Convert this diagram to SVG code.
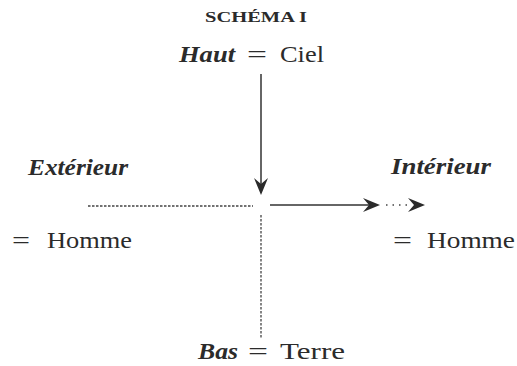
<svg xmlns="http://www.w3.org/2000/svg" width="517" height="366" viewBox="0 0 517 366">
<style>
text{font-family:"Liberation Serif","DejaVu Serif",serif;fill:#2b2b2b}
.it{font-style:italic;font-weight:bold}
.t{font-size:23px}
.sc{font-size:15px;font-weight:bold}
.sol{stroke:#333;stroke-width:1.5;fill:none}
.dash{stroke:#444;stroke-width:1.3;stroke-dasharray:2.5 1.5;fill:none}
.dot{stroke:#444;stroke-width:1.6;stroke-dasharray:1.5 5;fill:none}
.head{fill:#2b2b2b}
</style>
<rect width="517" height="366" fill="#ffffff"/>
<g id="title"><text class="sc" x="205" y="22" textLength="102" lengthAdjust="spacingAndGlyphs">SCHÉMA I</text></g>
<g id="haut">
<text class="t it" x="179" y="62" textLength="56" lengthAdjust="spacingAndGlyphs">Haut</text>
<text class="t" x="247" y="62" textLength="20" lengthAdjust="spacingAndGlyphs">=</text>
<text class="t" x="280" y="62" textLength="44" lengthAdjust="spacingAndGlyphs">Ciel</text>
</g>
<g id="exterieur">
<text class="t it" x="28" y="175" textLength="100" lengthAdjust="spacingAndGlyphs">Extérieur</text>
<text class="t" x="12" y="248" textLength="18" lengthAdjust="spacingAndGlyphs">=</text>
<text class="t" x="47" y="248" textLength="85" lengthAdjust="spacingAndGlyphs">Homme</text>
</g>
<g id="interieur">
<text class="t it" x="391" y="174" textLength="100" lengthAdjust="spacingAndGlyphs">Intérieur</text>
<text class="t" x="393" y="248" textLength="19" lengthAdjust="spacingAndGlyphs">=</text>
<text class="t" x="427" y="248" textLength="88" lengthAdjust="spacingAndGlyphs">Homme</text>
</g>
<g id="bas">
<text class="t it" x="198" y="359" textLength="40" lengthAdjust="spacingAndGlyphs">Bas</text>
<text class="t" x="248" y="359" textLength="20" lengthAdjust="spacingAndGlyphs">=</text>
<text class="t" x="280" y="359" textLength="65" lengthAdjust="spacingAndGlyphs">Terre</text>
</g>
<g id="connectors">
<line class="sol" x1="261" y1="74" x2="261" y2="188"/>
<path class="head" d="M261,195 L254,178 L261,184 L268,178 Z"/>
<line class="dash" x1="88" y1="206" x2="253" y2="206"/>
<line class="dash" x1="261" y1="215" x2="261" y2="338"/>
<line class="sol" x1="270" y1="205" x2="374" y2="205"/>
<path class="head" d="M380,205 L363,198 L369,205 L363,212 Z"/>
<line class="dot" x1="386" y1="205" x2="410" y2="205"/>
<path class="head" d="M425,205 L408,198 L414,205 L408,212 Z"/>
</g>
</svg>
